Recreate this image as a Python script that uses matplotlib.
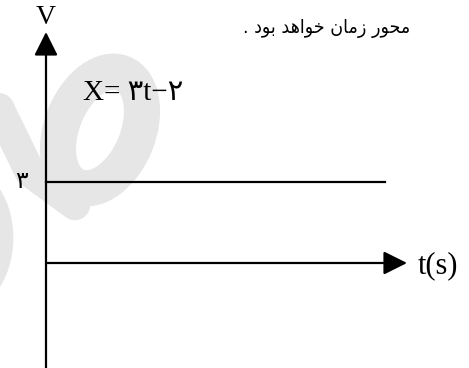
import matplotlib
matplotlib.use("Agg")
import matplotlib.pyplot as plt
from matplotlib.patches import Ellipse, Arc
from matplotlib.transforms import IdentityTransform

# --- data ---
v_const = 3          # V = 3 (slope of x = 3t - 2)
t_start = 0
t_end = 5
v_tick_label = "۳"
equation = "X= ۳t−۲"
note_text = "محور زمان خواهد بود ."
v_label = "V"
t_label = "t(s)"

# layout (pixels of the 469x368 output)
W, H = 469, 368
x0_px, y0_px = 46, 263        # origin
px_per_t = 67.8
px_per_v = 27.0

# --- tiny arabic shaper (matplotlib has no RTL shaping) ---
forms = {
    "م": ("ﻡ", "ﻢ", "ﻣ", "ﻤ"), "ح": ("ﺡ", "ﺢ", "ﺣ", "ﺤ"),
    "خ": ("ﺥ", "ﺦ", "ﺧ", "ﺨ"), "ه": ("ﻩ", "ﻪ", "ﻫ", "ﻬ"),
    "ب": ("ﺏ", "ﺐ", "ﺑ", "ﺒ"), "ن": ("ﻥ", "ﻦ", "ﻧ", "ﻨ"),
    "و": ("ﻭ", "ﻮ"), "ر": ("ﺭ", "ﺮ"), "ز": ("ﺯ", "ﺰ"),
    "ا": ("ﺍ", "ﺎ"), "د": ("ﺩ", "ﺪ"),
}


def shape(s):
    out = []
    for i, c in enumerate(s):
        if c not in forms:
            out.append(c)
            continue
        prev = s[i - 1] if i > 0 else ""
        nxt = s[i + 1] if i + 1 < len(s) else ""
        jp = prev in forms and len(forms[prev]) == 4
        jn = len(forms[c]) == 4 and nxt in forms
        f = forms[c]
        if jp and jn:
            out.append(f[3])
        elif jp:
            out.append(f[1])
        elif jn:
            out.append(f[2])
        else:
            out.append(f[0])
    return "".join(out)[::-1]


fig = plt.figure(figsize=(W / 100, H / 100), dpi=100)
ax = fig.add_axes([0, 0, 1, 1])
ax.set_xlim(-x0_px / px_per_t, (W - x0_px) / px_per_t)
ax.set_ylim(-(H - y0_px) / px_per_v, y0_px / px_per_v)
ax.axis("off")


def px(x, y):
    return (x - x0_px) / px_per_t, (y0_px - y) / px_per_v


# watermark (drawn in output pixels)
wm = "#e6e6e6"
idt = IdentityTransform()
ax.add_patch(Ellipse((100, H - 130), 76, 122, angle=-22, fill=False, ec=wm,
                     lw=26, transform=idt, zorder=0))
ax.plot([-5, 30, 75], [H - 100, H - 172, H - 205], color=wm, lw=22,
        solid_capstyle="round", transform=idt, zorder=0)
ax.add_patch(Arc((-40, H - 238), 90, 130, theta1=-60, theta2=60, ec=wm, lw=12,
                 transform=idt, zorder=0))

serif = ["Liberation Serif", "DejaVu Sans"]

# axes arrows
ymin, _ = ax.get_ylim()
v_top = px(0, 32)[1]
t_tip = px(407, 0)[0]
ax.annotate("", xy=(0, v_top), xytext=(0, ymin), zorder=3,
            arrowprops=dict(arrowstyle="-|>,head_length=0.9,head_width=0.45",
                            color="black", lw=1.6, mutation_scale=16, shrinkA=0, shrinkB=0))
ax.annotate("", xy=(t_tip, 0), xytext=(0, 0), zorder=3,
            arrowprops=dict(arrowstyle="-|>,head_length=0.9,head_width=0.45",
                            color="black", lw=1.6, mutation_scale=16, shrinkA=0, shrinkB=0))

# constant velocity line
ax.plot([t_start, t_end], [v_const, v_const], color="black", lw=1.6, zorder=3)

ax.text(*px(46, 18), v_label, ha="center", va="center", fontsize=20, family=serif)
ax.text(*px(418, 266), t_label, ha="left", va="center", fontsize=22, family=serif)
ax.text(*px(21, 181), v_tick_label, ha="center", va="center", fontsize=17,
        family=["DejaVu Sans"])
ax.text(*px(83, 93), equation, ha="left", va="center", fontsize=21, family=serif)
ax.text(*px(410, 28), shape(note_text), ha="right", va="center", fontsize=14,
        family=["DejaVu Sans"], fontstretch="condensed")

fig.savefig("out.png", dpi=100)
